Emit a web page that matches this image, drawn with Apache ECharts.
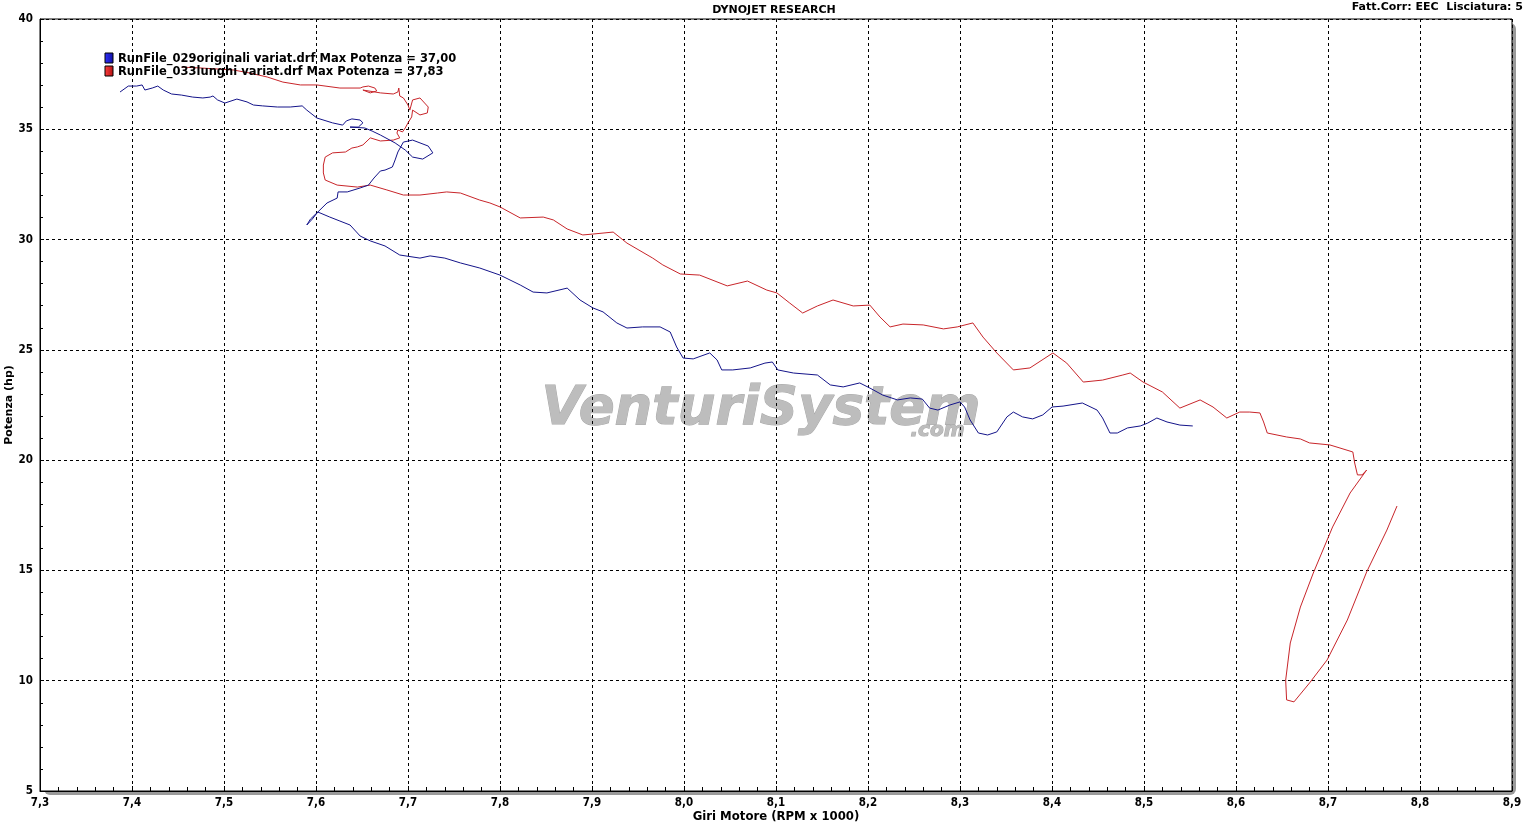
<!DOCTYPE html>
<html>
<head>
<meta charset="utf-8">
<script src="https://cdn.jsdelivr.net/npm/echarts@6/dist/echarts.min.js"></script>
<style>
html,body{margin:0;padding:0;background:#fff;}
#chart{width:1539px;height:823px;}
</style>
</head>
<body>
<div id="chart"></div>
<script>
// ---- DATA ----
const chartTitle = 'DYNOJET RESEARCH';
const infoText = 'Fatt.Corr: EEC  Lisciatura: 5';
const xAxisName = 'Giri Motore (RPM x 1000)';
const yAxisName = 'Potenza (hp)';
const seriesNames = ['RunFile_029originali variat.drf Max Potenza = 37,00',
                     'RunFile_033lunghi variat.drf Max Potenza = 37,83'];
const xRange = [7.3, 8.9, 0.1];
const yRange = [5, 40, 5];

const blueRpm = [7.387,7.396,7.405,7.411,7.414,7.422,7.428,7.434,7.443,7.454,7.466,7.477,7.485,7.488,7.493,7.501,7.514,7.525,7.532,7.542,7.558,7.572,7.585,7.590,7.601,7.618,7.629,
 7.633,7.639,7.648,7.651,7.646,7.637,
 7.653,7.661,7.670,7.686,7.697,7.705,7.716,7.727,7.722,7.705,7.695,7.689,7.686,7.683,7.675,7.670,7.663,7.657,7.648,7.634,7.624,7.623,7.612,7.602,7.594,7.590,7.596,
 7.602,7.615,7.626,7.637,7.648,7.659,7.675,7.691,7.713,7.724,7.740,7.757,7.778,7.800,7.822,7.836,7.851,7.873,7.887,7.901,7.912,7.927,7.938,7.955,7.974,7.985,7.992,7.999,8.010,8.028,8.036,8.041,8.053,8.072,8.088,8.096,8.102,8.119,8.145,8.159,8.173,8.191,8.202,8.216,8.232,8.246,8.259,8.267,8.276,8.289,8.300,8.305,8.311,8.320,8.330,8.340,8.351,8.358,8.368,8.379,8.390,8.400,8.412,8.433,8.449,8.455,8.463,8.471,8.482,8.496,8.504,8.514,8.525,8.539,8.553];
const bluePower = [36.69,36.96,36.96,37.01,36.78,36.87,36.96,36.78,36.60,36.55,36.46,36.42,36.46,36.51,36.33,36.19,36.37,36.24,36.10,36.06,36.01,36.01,36.06,35.87,35.51,35.29,35.19,
 35.38,35.47,35.42,35.29,35.10,35.10,
 35.06,34.92,34.74,34.38,34.06,33.74,33.65,33.93,34.24,34.51,34.42,33.97,33.61,33.29,33.15,33.11,32.79,32.47,32.34,32.16,32.16,31.88,31.66,31.25,30.93,30.66,30.93,
 31.25,31.02,30.84,30.66,30.16,29.94,29.71,29.30,29.16,29.26,29.16,28.94,28.71,28.39,27.94,27.62,27.58,27.80,27.26,26.90,26.72,26.22,25.99,26.04,26.04,25.81,25.13,24.63,24.59,24.86,24.54,24.09,24.09,24.18,24.40,24.45,24.09,23.95,23.86,23.41,23.32,23.50,23.27,22.95,22.73,22.82,22.77,22.36,22.27,22.50,22.64,22.41,21.82,21.23,21.14,21.28,21.96,22.18,21.96,21.87,22.05,22.41,22.45,22.59,22.27,21.91,21.23,21.23,21.46,21.55,21.68,21.91,21.73,21.59,21.55];

const redRpm = [7.454,7.474,7.510,7.528,7.547,7.564,7.583,7.601,7.626,7.648,
 7.651,7.657,7.664,7.666,7.659,7.651,
 7.670,7.684,7.689,7.690,7.691,7.695,7.700,7.702,
 7.705,7.713,7.722,7.721,7.713,7.705,
 7.704,7.700,7.697,7.694,7.689,7.688,7.691,7.684,7.670,7.659,7.651,7.645,7.639,7.632,7.618,7.610,7.608,7.608,7.610,7.623,7.645,7.659,7.677,7.695,7.713,7.732,7.742,7.757,7.778,7.789,7.800,7.822,7.847,7.858,7.873,7.890,7.901,7.923,7.938,7.966,7.977,7.996,8.017,8.047,8.069,8.090,8.101,8.115,8.129,8.145,8.162,8.184,8.202,8.213,8.224,8.238,8.260,8.282,8.297,8.314,8.325,8.340,8.358,8.376,8.401,8.416,8.434,8.455,8.477,8.485,8.499,8.520,8.539,8.561,8.575,8.590,8.604,8.615,8.626,8.630,8.634,8.655,8.670,8.680,8.702,8.713,8.727,8.729,8.732,8.737,8.742,
 8.724,8.705,8.684,8.670,8.659,8.654,8.655,8.663,8.680,8.699,8.721,8.742,8.764,8.775];
const redPower = [37.82,37.78,37.69,37.55,37.37,37.14,37.01,37.01,36.87,36.87,
 36.92,36.96,36.87,36.74,36.65,36.78,
 36.65,36.60,36.69,36.87,36.51,36.42,36.10,35.87,
 36.33,36.42,36.01,35.74,35.65,35.87,
 35.56,35.29,35.06,34.88,34.97,34.83,34.61,34.51,34.47,34.61,34.29,34.20,34.15,33.97,33.93,33.74,33.38,33.02,32.70,32.47,32.38,32.47,32.25,32.02,32.02,32.11,32.16,32.11,31.79,31.66,31.48,30.98,31.02,30.89,30.48,30.21,30.25,30.34,29.84,29.16,28.85,28.44,28.39,27.90,28.12,27.71,27.58,27.12,26.67,26.99,27.26,26.99,27.03,26.49,26.04,26.17,26.13,25.95,26.04,26.22,25.58,24.86,24.09,24.18,24.86,24.40,23.54,23.63,23.86,23.95,23.54,23.09,22.36,22.73,22.41,21.91,22.18,22.18,22.14,21.73,21.23,21.05,20.96,20.78,20.69,20.55,20.37,19.87,19.33,19.33,19.55,
 18.51,16.97,14.88,13.34,11.71,10.03,9.13,9.04,9.90,10.94,12.75,14.93,16.83,17.92];

const blueColor = '#14148a';
const redColor = '#c8252a';

function zip(a, b) { return a.map((v, i) => [v, b[i]]); }

const chart = echarts.init(document.getElementById('chart'), null, {renderer: 'canvas'});
const F = 'DejaVu Sans, Verdana, sans-serif';
const FC = '"DejaVu Sans Condensed", "Roboto Condensed", "DejaVu Sans", sans-serif';

const option = {
  backgroundColor: '#ffffff',
  animation: false,
  title: [{
    text: chartTitle, left: 769, top: 0, textAlign: 'center',
    textStyle: {fontFamily: F, fontSize: 11, fontWeight: 'bold', color: '#000'}
  }, {
    text: infoText, right: 11, top: -3,
    textStyle: {fontFamily: F, fontSize: 11, fontWeight: 'bold', color: '#000'}
  }],
  grid: {
    left: 40, right: 27, top: 19, bottom: 32,
    outerBoundsMode: 'none', containLabel: false,
    show: true, borderColor: '#000', borderWidth: 1,
    backgroundColor: 'transparent'
  },
  xAxis: {
    type: 'value', min: xRange[0], max: xRange[1], interval: xRange[2],
    name: xAxisName, nameLocation: 'middle', nameGap: 19, nameMoveOverlap: false,
    nameTextStyle: {fontFamily: FC, fontSize: 13, fontWeight: 'bold', color: '#000'},
    axisLine: {show: true, lineStyle: {color: '#000', width: 1}},
    axisTick: {show: true, inside: true, length: 5, lineStyle: {color: '#000'}},
    minorTick: {show: true, splitNumber: 5, length: 4, lineStyle: {color: '#000'}},
    axisLabel: {
      fontFamily: FC, fontSize: 11.5, fontWeight: 'bold', color: '#000', margin: 6,
      formatter: v => (Math.round(v * 10) / 10).toFixed(1).replace('.', ',')
    },
    splitLine: {show: true, lineStyle: {color: '#000', type: [3, 3], width: 1}}
  },
  yAxis: {
    type: 'value', min: yRange[0], max: yRange[1], interval: yRange[2],
    name: yAxisName, nameLocation: 'middle', nameGap: 25, nameRotate: 90, nameMoveOverlap: false,
    nameTextStyle: {fontFamily: F, fontSize: 11, fontWeight: 'bold', color: '#000'},
    axisLine: {show: true, lineStyle: {color: '#000', width: 1}},
    axisTick: {show: true, inside: true, length: 4, lineStyle: {color: '#000'}},
    minorTick: {show: true, splitNumber: 5, length: 3, lineStyle: {color: '#000'}},
    axisLabel: {fontFamily: FC, fontSize: 11.5, fontWeight: 'bold', color: '#000', margin: 7},
    splitLine: {show: true, lineStyle: {color: '#000', type: [3, 3], width: 1}}
  },
  graphic: {
    elements: [
      // plot frame shadow
      {type: 'rect', z: -20, silent: true, shape: {x: 44, y: 23, width: 1472, height: 772, r: 6}, style: {fill: '#9a9a9a'}},
      {type: 'rect', z: -19, silent: true, shape: {x: 40, y: 19, width: 1472, height: 772, r: [6, 0, 0, 0]}, style: {fill: '#ffffff'}},
      // watermark
      {type: 'text', z: -5, silent: true, left: 541, top: 383,
        style: {text: 'VenturiSystem', font: 'italic 900 53px "DejaVu Sans", sans-serif', fill: '#bdbdbd', stroke: '#a8a8a8', lineWidth: 1}},
      {type: 'text', z: -5, silent: true, left: 910, top: 420,
        style: {text: '.com', font: 'italic 900 20px "DejaVu Sans", sans-serif', fill: '#bdbdbd', stroke: '#a8a8a8', lineWidth: 1}},
      // legend
      {type: 'rect', z: 50, shape: {x: 105, y: 53, width: 8, height: 10},
        style: {fill: new echarts.graphic.LinearGradient(0, 0, 1, 0, [{offset: 0, color: '#3030ff'}, {offset: 1, color: '#1010a0'}]), stroke: '#000', lineWidth: 1}},
      {type: 'rect', z: 50, shape: {x: 105, y: 66, width: 8, height: 10},
        style: {fill: new echarts.graphic.LinearGradient(0, 0, 1, 0, [{offset: 0, color: '#ff4040'}, {offset: 1, color: '#b01010'}]), stroke: '#000', lineWidth: 1}},
      {type: 'text', z: 50, left: 118, top: 53,
        style: {text: seriesNames[0], font: 'bold 11.5px "DejaVu Sans", sans-serif', fill: '#000'}},
      {type: 'text', z: 50, left: 118, top: 66,
        style: {text: seriesNames[1], font: 'bold 11.5px "DejaVu Sans", sans-serif', fill: '#000'}}
    ]
  },
  series: [{
    name: seriesNames[0], type: 'line', data: zip(blueRpm, bluePower),
    showSymbol: false, symbol: 'none', smooth: false, z: 5,
    lineStyle: {color: blueColor, width: 1}
  }, {
    name: seriesNames[1], type: 'line', data: zip(redRpm, redPower),
    showSymbol: false, symbol: 'none', smooth: false, z: 4,
    lineStyle: {color: redColor, width: 1}
  }]
};
chart.setOption(option);
</script>
</body>
</html>
